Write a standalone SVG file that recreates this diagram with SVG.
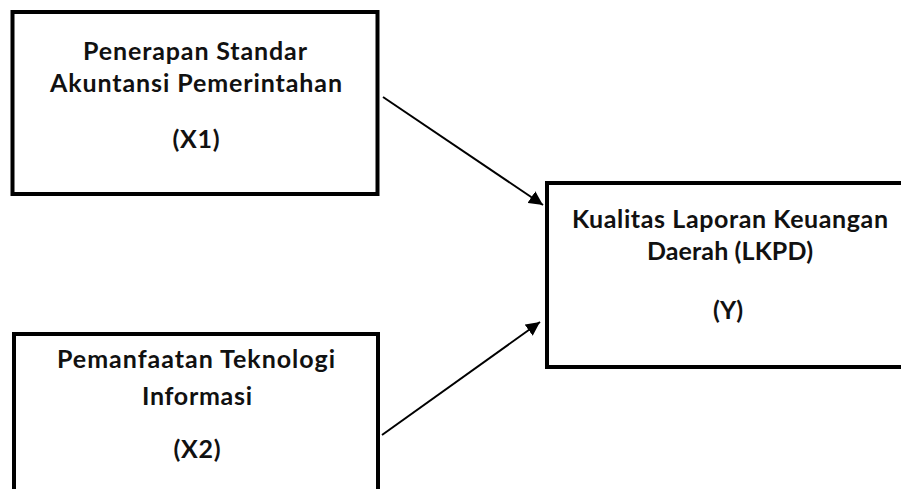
<svg xmlns="http://www.w3.org/2000/svg" width="901" height="489" viewBox="0 0 901 489">
<style>
.box{fill:#fff;stroke:#000;stroke-width:4}
.t{font-family:Lato,"Open Sans","Liberation Sans",sans-serif;font-weight:bold;font-size:25px;fill:#111;text-anchor:middle}
.c{stroke:#000;stroke-width:2;fill:none}
</style>
<defs>
<marker id="ah" viewBox="0 0 10 10" refX="10" refY="5" markerWidth="7" markerHeight="7" orient="auto" markerUnits="strokeWidth">
<path d="M0,0 L10,5 L0,10 Z" fill="#000"/>
</marker>
</defs>
<rect width="901" height="489" fill="#fff"/>
<g id="x1">
<rect class="box" x="12.5" y="12" width="365" height="182"/>
<text class="t" x="195" y="60" textLength="224" lengthAdjust="spacing">Penerapan Standar</text>
<text class="t" x="196" y="92" textLength="292" lengthAdjust="spacing">Akuntansi Pemerintahan</text>
<text class="t" x="196" y="148" textLength="47" lengthAdjust="spacing">(X1)</text>
</g>
<g id="x2">
<rect class="box" x="14" y="334" width="364" height="170"/>
<text class="t" x="196" y="368" textLength="278" lengthAdjust="spacing">Pemanfaatan Teknologi</text>
<text class="t" x="197" y="405" textLength="110" lengthAdjust="spacing">Informasi</text>
<text class="t" x="197" y="458" textLength="47" lengthAdjust="spacing">(X2)</text>
</g>
<g id="y">
<rect class="box" x="547" y="183" width="370" height="184"/>
<text class="t" x="730" y="228" textLength="316" lengthAdjust="spacing">Kualitas Laporan Keuangan</text>
<text class="t" x="730" y="260" textLength="166" lengthAdjust="spacing">Daerah (LKPD)</text>
<text class="t" x="728" y="319" textLength="30" lengthAdjust="spacing">(Y)</text>
</g>
<g id="connectors">
<line class="c" x1="383" y1="97" x2="543" y2="205" marker-end="url(#ah)"/>
<line class="c" x1="382" y1="435" x2="540" y2="322" marker-end="url(#ah)"/>
</g>
</svg>
